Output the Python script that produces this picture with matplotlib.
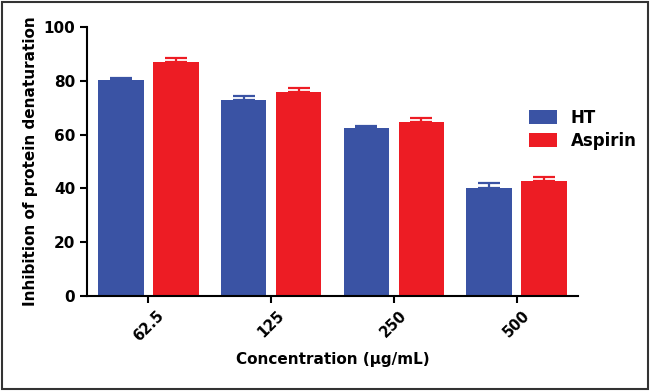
import matplotlib.pyplot as plt
import numpy as np
from matplotlib.patches import Rectangle

concentrations = ['62.5', '125', '250', '500']
ht = [80.3, 73.0, 62.3, 40.0]
ht_err = [0.7, 1.3, 1.0, 2.1]
aspirin = [87.1, 75.8, 64.8, 42.6]
aspirin_err = [1.4, 1.4, 1.2, 1.5]

blue = '#3A53A4'
red = '#ED1C24'

fig = plt.figure(figsize=(6.5, 3.91), dpi=100)
ax = fig.add_axes([0.134, 0.243, 0.755, 0.688])

x = np.arange(len(concentrations))
w = 0.37
gap = 0.04
err_kw = dict(elinewidth=1.6, capthick=1.6, capsize=8)
ax.bar(x - w / 2 - gap, ht, w, color=blue, label='HT',
       yerr=[np.zeros(4), ht_err], error_kw=dict(ecolor=blue, **err_kw))
ax.bar(x + w / 2 + gap, aspirin, w, color=red, label='Aspirin',
       yerr=[np.zeros(4), aspirin_err], error_kw=dict(ecolor=red, **err_kw))

ax.set_xlim(-0.5, 3.5)
ax.set_ylim(0, 100)
ax.set_yticks([0, 20, 40, 60, 80, 100])
ax.set_xticks(x)
ax.set_xticklabels(concentrations, rotation=45, fontsize=10.5, fontweight='bold',
                   ha='center', va='top')
for lab in ax.get_yticklabels():
    lab.set_fontweight('bold')
    lab.set_fontsize(11)

for s in ['top', 'right']:
    ax.spines[s].set_visible(False)
for s in ['left', 'bottom']:
    ax.spines[s].set_linewidth(1.5)
ax.tick_params(width=1.5, length=5, direction='out')

ax.set_ylabel('Inhibition of protein denaturation', fontsize=11, fontweight='bold')
ax.set_xlabel('Concentration (µg/mL)', fontsize=11, fontweight='bold', labelpad=6)

ax.legend(loc='center left', bbox_to_anchor=(0.87, 0.62), frameon=False,
          prop={'weight': 'bold', 'size': 12}, handlelength=1.7, handleheight=0.9,
          labelspacing=0.3)

fig.add_artist(Rectangle((0.003, 0.004), 0.994, 0.992, transform=fig.transFigure,
                         fill=False, edgecolor='#333333', linewidth=1.5))

plt.savefig('out.png', dpi=100)
